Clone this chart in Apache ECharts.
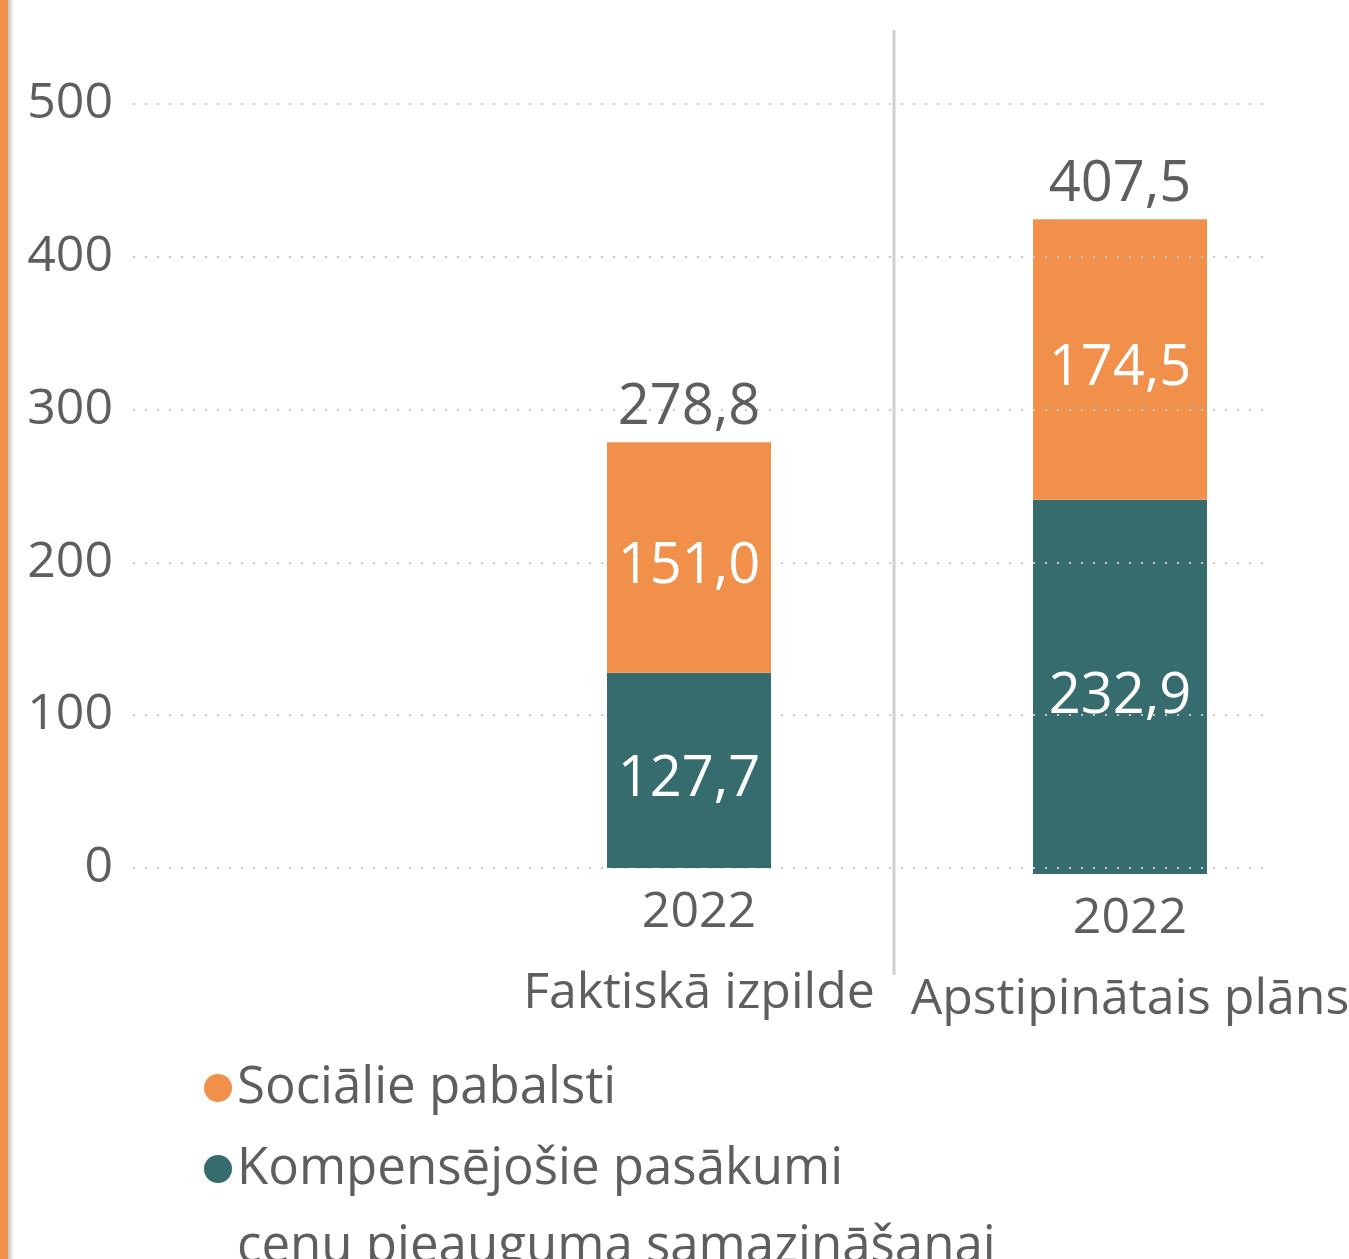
<!DOCTYPE html>
<html>
<head>
<meta charset="utf-8">
<script src="https://cdn.jsdelivr.net/npm/echarts@6/dist/echarts.min.js"></script>
<style>
  html, body { margin: 0; padding: 0; background: #fff; }
  #main { width: 1349px; height: 1259px; }
</style>
</head>
<body>
<div id="main"></div>
<script>
// dati (milj. EUR)
const years = ['2022'];
const panels = ['Faktiskā izpilde', 'Apstipinātais plāns'];
const kompensejosie = [127.7, 232.9];
const socialie = [151.0, 174.5];
const totals = [278.8, 407.5];
const yMin = 0, yMax = 500, yStep = 100;

const nameSoc = 'Sociālie pabalsti';
const nameKomp = 'Kompensējošie pasākumi\ncenu pieauguma samazināšanai';

const orange = '#F0904A';
const teal = '#376C6E';
const grey = '#605E5C';
const font = 'Open Sans';
const barWidths = [164, 174];

const fmt = v => v.toFixed(1).replace('.', ',');

const myChart = echarts.init(document.getElementById('main'));

function catAxis(gridIndex, p) {
  return {
    type: 'category',
    gridIndex: gridIndex,
    data: years,
    axisLine: { show: false },
    axisTick: { show: false },
    axisLabel: {
      margin: 10,
      padding: [0, 0, 0, 20],
      formatter: v => '{y|' + v + '}\n{n|' + panels[p] + '}',
      rich: {
        y: { fontFamily: font, fontSize: 50, color: grey, lineHeight: 70 },
        n: { fontFamily: font, fontSize: 50, color: grey, lineHeight: 92 }
      }
    }
  };
}

function hiddenY(gridIndex, max) {
  return {
    type: 'value', gridIndex: gridIndex, min: 0, max: max, show: false,
    splitLine: { show: false }
  };
}

function panelSeries(p, z) {
  const common = {
    type: 'bar', xAxisIndex: p + 1, yAxisIndex: p + 1, stack: 's' + p, z: z,
    barWidth: barWidths[p]
  };
  const inner = { show: true, position: 'inside', offset: [0, 10], color: '#fff', fontFamily: font, fontSize: 56, formatter: o => fmt(o.value) };
  return [
    Object.assign({}, common, {
      name: nameKomp,
      data: [kompensejosie[p]],
      itemStyle: { color: teal },
      label: inner
    }),
    Object.assign({}, common, {
      name: nameSoc,
      data: [socialie[p]],
      itemStyle: { color: orange },
      label: inner
    }),
    Object.assign({}, common, {
      name: 'total',
      data: [0],
      itemStyle: { color: 'transparent' },
      label: { show: true, position: 'top', distance: 6, color: grey, fontFamily: font, fontSize: 56, formatter: () => fmt(totals[p]) }
    })
  ];
}

const option = {
  animation: false,
  grid: [
    { left: 133, right: 84, top: 104, bottom: 391, outerBoundsMode: 'none' },
    { left: 507, width: 364, top: 104, bottom: 391, outerBoundsMode: 'none' },
    { left: 1000, width: 240, top: 219, bottom: 385, outerBoundsMode: 'none' }
  ],
  legend: [
    {
      data: [nameSoc], orient: 'vertical', left: 199, top: 1044,
      icon: 'circle', itemWidth: 28, itemHeight: 28,
      textStyle: { fontFamily: font, fontSize: 51, color: grey, lineHeight: 78 }
    },
    {
      data: [nameKomp], orient: 'vertical', left: 199, top: 1047,
      icon: 'circle', itemWidth: 28, itemHeight: 28,
      formatter: name => '\n' + name,
      textStyle: { fontFamily: font, fontSize: 51, color: grey, lineHeight: 78 }
    }
  ],
  xAxis: [
    { type: 'category', gridIndex: 0, data: [''], show: false },
    catAxis(1, 0),
    catAxis(2, 1)
  ],
  yAxis: [
    {
      type: 'value', gridIndex: 0, min: yMin, max: yMax, interval: yStep, z: 1,
      axisLine: { show: false }, axisTick: { show: false },
      axisLabel: { fontFamily: font, fontSize: 50, color: grey, margin: 20, padding: [6, 0, 0, 0] },
      splitLine: { lineStyle: { color: '#c8c8c8', width: 2, type: [2, 10] } }
    },
    hiddenY(1, yMax),
    hiddenY(2, totals[1])
  ],
  graphic: [
    { type: 'rect', left: 0, top: 0, shape: { width: 8, height: 1259 }, style: { fill: orange } },
    { type: 'rect', left: 8, top: 0, shape: { width: 6, height: 1259 },
      style: { fill: new echarts.graphic.LinearGradient(0, 0, 1, 0, [
        { offset: 0, color: '#c4c4c4' }, { offset: 1, color: '#ffffff' }]) } },
    { type: 'line', shape: { x1: 894, y1: 30, x2: 894, y2: 975 }, style: { stroke: '#d0d0d0', lineWidth: 3 } }
  ],
  series: [].concat(panelSeries(0, 2), panelSeries(1, 0))
};

myChart.setOption(option);
</script>
</body>
</html>
